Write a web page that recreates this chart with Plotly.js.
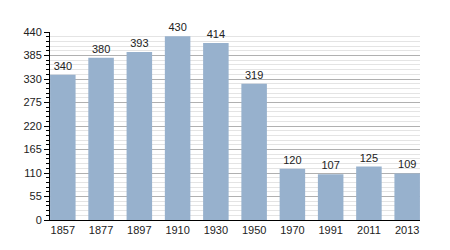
<!DOCTYPE html>
<html>
<head>
<meta charset="utf-8">
<script src="https://cdn.plot.ly/plotly-3.0.1.min.js"></script>
<style>html,body{margin:0;padding:0;background:#fff;}#chart{width:450px;height:250px;}</style>
</head>
<body>
<div id="chart"></div>
<script>
var years = ["1857","1877","1897","1910","1930","1950","1970","1991","2011","2013"];
var population = [340, 380, 393, 430, 414, 319, 120, 107, 125, 109];
var yTicks = [0, 55, 110, 165, 220, 275, 330, 385, 440];

var idx = years.map(function(_, i){ return i; });

var trace = {
  type: 'bar',
  x: idx,
  y: population,
  text: population.map(String),
  textposition: 'outside',
  cliponaxis: false,
  textfont: {family: 'Liberation Sans, Arial, sans-serif', size: 11, color: '#222'},
  marker: {color: '#97b1cd', line: {width: 0}},
  hoverinfo: 'none'
};

var layout = {
  width: 450, height: 250,
  margin: {l: 50, r: 30, t: 32, b: 30},
  paper_bgcolor: '#fff', plot_bgcolor: '#fff',
  bargap: 0.333,
  showlegend: false,
  font: {family: 'Liberation Sans, Arial, sans-serif', size: 11, color: '#222'},
  xaxis: {
    type: 'linear',
    range: [-0.335, 9.335],
    tickmode: 'array',
    tickvals: idx,
    ticktext: years,
    showgrid: false,
    zeroline: false,
    showline: true,
    linecolor: '#000',
    linewidth: 1,
    ticks: '',
    fixedrange: true
  },
  yaxis: {
    range: [0, 440],
    tickmode: 'array',
    tickvals: yTicks,
    showgrid: true,
    gridcolor: '#b0b0b0',
    gridwidth: 1,
    zeroline: false,
    showline: true,
    linecolor: '#000',
    linewidth: 1,
    ticks: 'outside',
    ticklen: 5,
    tickcolor: '#000',
    minor: {dtick: 11, tick0: 0, showgrid: true, gridcolor: '#e4e4e4', gridwidth: 1, ticks: 'outside', ticklen: 3, tickcolor: '#000'},
    fixedrange: true
  }
};

Plotly.newPlot('chart', [trace], layout, {staticPlot: true, displayModeBar: false});
</script>
</body>
</html>
